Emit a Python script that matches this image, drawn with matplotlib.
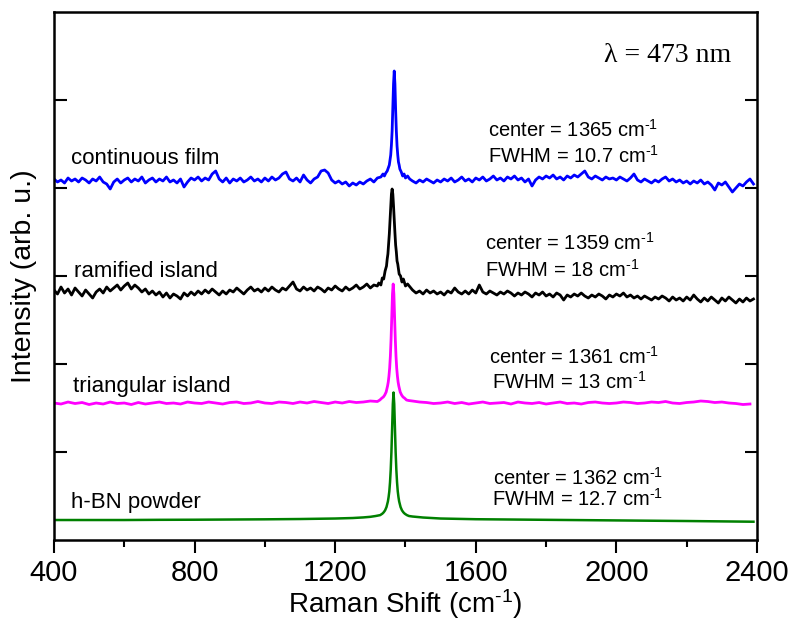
import numpy as np
import matplotlib
matplotlib.use('Agg')
import matplotlib.pyplot as plt
from matplotlib.ticker import MultipleLocator

plt.rcParams['font.family'] = ['Liberation Sans', 'DejaVu Sans']
plt.rcParams['mathtext.fontset'] = 'custom'
plt.rcParams['mathtext.rm'] = 'Liberation Sans'
plt.rcParams['mathtext.default'] = 'regular'

# sampling of the flat parts of the spectra
shift_left = np.arange(400, 1321, 10)
shift_right = np.arange(1420, 2391, 10)
shift_left_20 = np.arange(400, 1321, 20)
shift_right_20 = np.arange(1420, 2391, 20)

# continuous film (blue)
film_left = [361, 358, 360, 357, 362, 359, 361, 358, 362, 360,
             357, 361, 359, 363, 358, 356, 351, 358, 361, 357,
             360, 362, 358, 361, 359, 363, 357, 360, 362, 358,
             361, 359, 363, 358, 360, 357, 361, 353, 358, 362,
             360, 363, 359, 362, 360, 366, 369, 361, 358, 362,
             357, 361, 359, 362, 358, 360, 363, 359, 361, 358,
             362, 359, 363, 360, 362, 366, 368, 361, 359, 362,
             358, 365, 360, 357, 361, 363, 369, 370, 367, 360,
             357, 359, 356, 358, 354, 357, 355, 358, 356, 359,
             361, 358, 362]
film_peak_x = [1330, 1336, 1340, 1344, 1348, 1352, 1354, 1356, 1358, 1360, 1362, 1364, 1366, 1368,
               1370, 1372, 1374, 1376, 1378, 1380, 1382, 1384, 1388, 1392, 1396, 1400, 1406, 1412]
film_peak = [363, 366, 364, 367, 369, 373, 375, 380, 385, 395, 409, 431, 456, 469,
             456, 430, 409, 394, 385, 378, 375, 371, 368, 364, 366, 362, 364, 361]
film_right = [359, 357, 360, 358, 361, 359, 357, 360, 358, 361,
              359, 362, 358, 360, 363, 359, 361, 358, 362, 360,
              363, 359, 361, 364, 360, 362, 359, 363, 361, 364,
              360, 362, 358, 361, 354, 360, 363, 361, 364, 362,
              365, 361, 363, 360, 364, 362, 365, 363, 366, 369,
              363, 361, 364, 362, 360, 363, 361, 362, 360, 363,
              361, 359, 362, 366, 360, 358, 361, 359, 357, 360,
              358, 361, 363, 359, 361, 358, 360, 357, 359, 356,
              359, 357, 360, 356, 358, 355, 350, 357, 355, 358,
              353, 348, 352, 356, 354, 358, 361, 356]

# ramified island (black)
ram_left = [250, 246, 253, 247, 251, 245, 252, 248, 244, 250,
            246, 242, 248, 251, 247, 253, 249, 252, 255, 250,
            254, 257, 251, 255, 252, 248, 251, 246, 249, 245,
            248, 243, 247, 242, 246, 244, 241, 247, 244, 248,
            245, 249, 246, 250, 247, 251, 248, 245, 249, 246,
            250, 248, 252, 249, 246, 250, 253, 249, 251, 248,
            252, 249, 253, 250, 248, 252, 250, 254, 258, 251,
            249, 253, 250, 252, 249, 253, 251, 248, 252, 250,
            254, 251, 249, 253, 250, 252, 255, 251, 253, 256,
            252, 255, 254]
ram_peak_x = [1324, 1330, 1334, 1338, 1342, 1346, 1348, 1350, 1352, 1354, 1356, 1358, 1360, 1362,
              1364, 1366, 1368, 1370, 1372, 1374, 1376, 1378, 1382, 1386, 1390, 1394, 1400, 1406]
ram_peak = [257, 255, 262, 261, 269, 274, 281, 286, 296, 306, 320, 334, 346, 351,
            346, 334, 320, 307, 295, 288, 279, 276, 266, 264, 258, 261, 254, 256]
ram_right = [250, 247, 249, 246, 250, 247, 249, 246, 248, 245,
             249, 247, 252, 248, 246, 249, 246, 250, 247, 255,
             248, 246, 249, 247, 245, 248, 246, 249, 247, 244,
             247, 245, 248, 246, 243, 247, 245, 248, 244, 246,
             243, 247, 245, 240, 245, 243, 246, 244, 247, 244,
             242, 245, 243, 246, 244, 241, 245, 243, 246, 244,
             247, 243, 245, 242, 244, 241, 244, 242, 240, 243,
             241, 244, 242, 239, 243, 240, 242, 239, 243, 240,
             245, 241, 238, 242, 239, 243, 240, 237, 242, 239,
             243, 240, 237, 241, 238, 242, 239, 241]

# triangular island (magenta)
tri_left = [137, 136, 138, 136.5, 137.5, 135.5, 137, 136, 138, 136.5,
            137, 135.5, 137.5, 136, 137, 138, 136.5, 137, 136, 138,
            137, 136.5, 138, 137, 136, 137.5, 138, 136.5, 137, 138.5,
            137, 136.5, 138, 137.5, 136.5, 138, 137, 138.5, 137.5, 136.5,
            138, 137, 138.5, 137.5, 138, 139, 138.5]
tri_peak_x = [1327, 1333, 1337, 1341, 1345, 1349, 1351, 1353, 1355, 1357, 1359, 1361, 1363, 1365,
              1367, 1369, 1371, 1373, 1375, 1377, 1379, 1381, 1385, 1389, 1393, 1397, 1403, 1409]
tri_peak = [140, 142, 143, 145, 148, 154, 158, 164, 172, 184, 201, 223, 246, 256,
            246, 223, 201, 184, 172, 164, 158, 154, 148, 145, 143, 142, 140, 139.5]
tri_right = [139, 138, 137.5, 136.5, 137, 138, 136.5, 137.5, 136, 137,
             138, 136.5, 137, 137.5, 136, 138, 137, 136.5, 137.5, 136,
             137, 138, 136.5, 137, 136, 137.5, 138, 137, 136.5, 137,
             138, 137.5, 136.5, 137, 138, 137.5, 138.5, 137, 136.5, 137.5,
             138, 139, 138.5, 137.5, 138, 137, 136.5, 135.5, 136]

# h-BN powder (green)
bn_left_x = [400, 500, 600, 700, 800, 900, 1000, 1100, 1200, 1250, 1280, 1300, 1315]
bn_left = [20, 20, 20, 20.2, 20.3, 20.5, 20.7, 21, 21.5, 22, 22.6, 23.2, 24]
bn_peak_x = [1328, 1334, 1338, 1342, 1346, 1350, 1352, 1354, 1356, 1358, 1360, 1362, 1364, 1366,
             1368, 1370, 1372, 1374, 1376, 1378, 1380, 1382, 1386, 1390, 1394, 1398, 1404, 1410]
bn_peak = [24.9, 26.3, 27.7, 29.7, 33, 38.6, 43, 48.7, 57.7, 70.2, 88, 111.7, 136, 147.5,
           136, 111.7, 88, 70.2, 57.7, 48.7, 43, 38.6, 33, 29.7, 27.7, 26.3, 24.9, 24]
bn_right_x = [1420, 1450, 1500, 1600, 1800, 2000, 2200, 2390]
bn_right = [23.5, 22.5, 21.5, 20.8, 20.2, 19.6, 19, 18.3]

film_x = np.concatenate([shift_left, film_peak_x, shift_right])
film_y = np.concatenate([film_left, film_peak, film_right])
ram_x = np.concatenate([shift_left, ram_peak_x, shift_right])
ram_y = np.concatenate([ram_left, ram_peak, ram_right])
tri_x = np.concatenate([shift_left_20, tri_peak_x, shift_right_20])
tri_y = np.concatenate([tri_left, tri_peak, tri_right])
bn_x = np.concatenate([bn_left_x, bn_peak_x, bn_right_x])
bn_y = np.concatenate([bn_left, bn_peak, bn_right])

fig = plt.figure(figsize=(7.96, 6.21), dpi=100)
ax = fig.add_axes([0.0678, 0.1304, 0.8832, 0.8503])

ax.plot(film_x, film_y, color='#0000ff', lw=2.0)
ax.plot(ram_x, ram_y, color='black', lw=2.0)
ax.plot(tri_x, tri_y, color='#ff00ff', lw=2.0)
ax.plot(bn_x, bn_y, color='#008000', lw=1.8)

ax.set_xlim(400, 2400)
ax.set_ylim(0, 528)
ax.set_xticks([400, 800, 1200, 1600, 2000, 2400])
ax.xaxis.set_minor_locator(MultipleLocator(200))
ax.set_yticks([88, 176, 264, 352, 440])

ax.tick_params(axis='x', which='major', direction='out', length=9, width=1.5,
               labelsize=21, pad=5)
ax.tick_params(axis='x', which='minor', direction='out', length=5, width=1.5)
ax.tick_params(axis='y', direction='in', length=9, width=1.5, left=True, right=True,
               labelleft=False)
for s in ax.spines.values():
    s.set_linewidth(1.8)

sup = '$^{\\text{-1}}$'
ax.set_xlabel('Raman Shift (cm' + sup + ')', fontsize=20, labelpad=0)
ax.set_ylabel('Intensity (arb. u.)', fontsize=20.5, labelpad=12)

# sample names
ax.text(448, 376, 'continuous film', fontsize=16)
ax.text(457, 263, 'ramified island', fontsize=16)
ax.text(454, 148, 'triangular island', fontsize=16)
ax.text(448, 32, 'h-BN powder', fontsize=16)

# peak fit results
ax.text(1635, 403, 'center = 1365 cm' + sup, fontsize=14.5)
ax.text(1635, 377, 'FWHM = 10.7 cm' + sup, fontsize=14.5)
ax.text(1626, 290, 'center = 1359 cm' + sup, fontsize=14.5)
ax.text(1626, 263, 'FWHM = 18 cm' + sup, fontsize=14.5)
ax.text(1638, 176, 'center = 1361 cm' + sup, fontsize=14.5)
ax.text(1646, 151, 'FWHM = 13 cm' + sup, fontsize=14.5)
ax.text(1649, 55, 'center = 1362 cm' + sup, fontsize=14.5)
ax.text(1646, 34, 'FWHM = 12.7 cm' + sup, fontsize=14.5)

ax.text(1965, 478, 'λ = 473 nm', fontsize=20, family=['Liberation Serif', 'DejaVu Serif'])

fig.savefig('out.png', dpi=100)
